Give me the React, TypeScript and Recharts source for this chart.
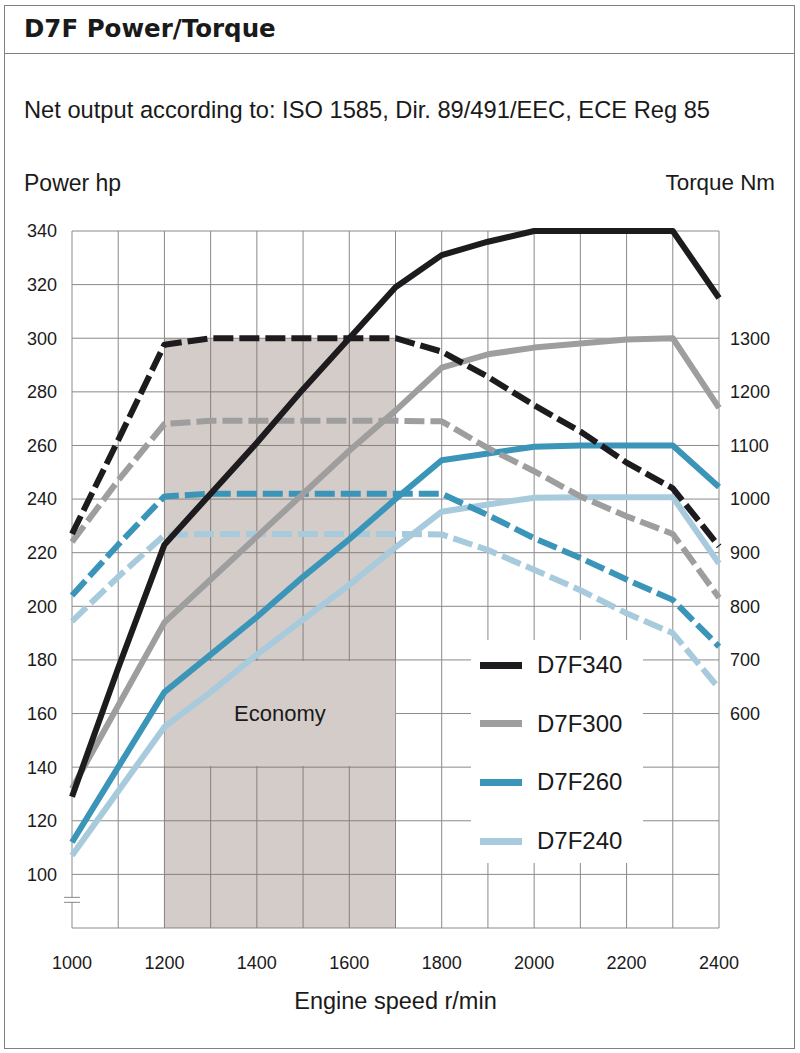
import React from 'react';
import { LineChart, Line, XAxis, YAxis, CartesianGrid, ReferenceArea, ReferenceDot, Legend } from 'recharts';

// engine speed, r/min
const rpm = [1000, 1100, 1200, 1300, 1400, 1500, 1600, 1700, 1800, 1900, 2000, 2100, 2200, 2300, 2400];
const rpmLabels = [1000, 1200, 1400, 1600, 1800, 2000, 2200, 2400];
const hpTicks = [80, 100, 120, 140, 160, 180, 200, 220, 240, 260, 280, 300, 320, 340];
const nmTicks = [600, 700, 800, 900, 1000, 1100, 1200, 1300];

// power, hp
const power340 = [129, 177, 223, 242, 261, 281, 300, 319, 331, 336, 340, 340, 340, 340, 315];
const power300 = [132, 163, 194, 210, 226, 242, 258, 273, 289, 294, 296.5, 298, 299.5, 300, 274];
const power260 = [112, 140, 168, 182, 196, 211, 225, 240, 254.5, 257, 259.5, 260, 260, 260, 244.5];
const power240 = [107, 131, 155, 168, 182, 195, 208, 222, 235.3, 238, 240.5, 240.7, 240.7, 240.7, 216];

// torque, Nm
const torque340 = [935, 1110, 1288, 1300, 1300, 1300, 1300, 1300, 1275, 1228, 1175, 1126, 1068, 1020, 912];
const torque300 = [920, 1035, 1140, 1146, 1146, 1146, 1146, 1146, 1145, 1095, 1052, 1005, 968, 935, 816];
const torque260 = [820, 915, 1005, 1010, 1010, 1010, 1010, 1010, 1010, 970, 927, 890, 850, 812, 725];
const torque240 = [772, 855, 933, 935, 935, 935, 935, 935, 934, 905, 868, 830, 787, 750, 647];

const engines = [
  { name: 'D7F240', color: '#a7cbdd', power: power240, torque: torque240 },
  { name: 'D7F260', color: '#3a95b8', power: power260, torque: torque260 },
  { name: 'D7F300', color: '#9e9e9e', power: power300, torque: torque300 },
  { name: 'D7F340', color: '#1d1b1e', power: power340, torque: torque340 },
];

const data = rpm.map((r, i) => {
  const row: Record<string, number> = { rpm: r };
  engines.forEach(e => {
    row[`p_${e.name}`] = e.power[i];
    row[`t_${e.name}`] = e.torque[i];
  });
  return row;
});

const FONT = '"Liberation Sans", Arial, sans-serif';
const TEXT = '#1a1a1a';
const GRID = '#8a8a8a';

const renderLegend = (props: any) => {
  const items = (props.payload || [])
    .filter((entry: any) => String(entry.dataKey).startsWith('p_'))
    .reverse();
  return (
    <div style={{ position: 'relative', width: 172, height: 223, background: '#fff', fontFamily: FONT }}>
      {items.map((entry: any, i: number) => (
        <div key={entry.value} style={{ position: 'absolute', left: 0, top: 25 + i * 58.7 - 15, height: 30, display: 'flex', alignItems: 'center' }}>
          <div style={{ marginLeft: 9, width: 42, height: 7, background: entry.color }} />
          <span style={{ marginLeft: 15, fontSize: 24, color: TEXT, lineHeight: '30px' }}>{entry.value}</span>
        </div>
      ))}
    </div>
  );
};

const AxisBreak = (props: any) => {
  const { cx, cy } = props;
  return (
    <g>
      <rect x={cx - 2} y={cy - 2} width={4} height={4} fill="#fff" />
      <line x1={cx - 8} x2={cx + 8} y1={cy - 2.5} y2={cy - 2.5} stroke={GRID} strokeWidth={1} />
      <line x1={cx - 8} x2={cx + 8} y1={cy + 2.5} y2={cy + 2.5} stroke={GRID} strokeWidth={1} />
    </g>
  );
};

const tickStyle = { fontSize: 18, fill: TEXT, fontFamily: FONT };

export default function App() {
  return (
    <div style={{ position: 'absolute', left: 0, top: 0, width: 800, height: 1053, background: '#fff', fontFamily: FONT, color: TEXT }}>
      <div style={{ position: 'absolute', left: 4, top: 5, width: 791, height: 1044, border: '1px solid #808080', boxSizing: 'border-box' }} />
      <div style={{ position: 'absolute', left: 4, top: 53, width: 791, borderTop: '1px solid #808080' }} />
      <div style={{ position: 'absolute', left: 24, top: 14, fontSize: 24.5, fontWeight: 'bold', lineHeight: '30px', fontFamily: '"DejaVu Sans", sans-serif' }}>
        D7F Power/Torque
      </div>
      <div style={{ position: 'absolute', left: 24, top: 96, fontSize: 23.7, lineHeight: '28px' }}>
        Net output according to: ISO 1585, Dir. 89/491/EEC, ECE Reg 85
      </div>
      <div style={{ position: 'absolute', left: 24, top: 169, fontSize: 23, lineHeight: '28px' }}>Power hp</div>
      <div style={{ position: 'absolute', right: 25, top: 169, fontSize: 22.4, lineHeight: '28px' }}>Torque Nm</div>

      <div style={{ position: 'absolute', left: 0, top: 0 }}>
        <LineChart width={800} height={1053} data={data} margin={{ top: 231, right: 0, bottom: 0, left: 0 }} style={{ fontFamily: FONT }}>
          <CartesianGrid stroke={GRID} strokeWidth={1} yAxisId="hp" />
          <XAxis
            dataKey="rpm"
            type="number"
            domain={[1000, 2400]}
            ticks={rpm}
            interval={0}
            height={125}
            axisLine={false}
            tickLine={false}
            tickSize={0}
            tickMargin={28}
            tickFormatter={(v: number) => (rpmLabels.includes(v) ? String(v) : '')}
            tick={tickStyle}
            label={{ value: 'Engine speed r/min', position: 'insideTop', offset: 64, fontSize: 23.5, fill: TEXT, fontFamily: FONT }}
          />
          <YAxis
            yAxisId="hp"
            domain={[80, 340]}
            ticks={hpTicks}
            interval={0}
            width={72}
            axisLine={false}
            tickLine={false}
            tickSize={0}
            tickMargin={15}
            tickFormatter={(v: number) => (v < 100 ? '' : String(v))}
            tick={tickStyle}
          />
          <YAxis
            yAxisId="nm"
            orientation="right"
            domain={[200, 1500]}
            ticks={nmTicks}
            interval={0}
            width={81}
            axisLine={false}
            tickLine={false}
            tickSize={0}
            tickMargin={11}
            tick={tickStyle}
          />
          <ReferenceArea yAxisId="hp" x1={1200} x2={1700} y1={80} y2={300} fill="#856e64" fillOpacity={0.35} stroke="none" />
          <ReferenceArea
            yAxisId="hp"
            x1={1200.5}
            x2={1699.5}
            y1={140.4}
            y2={179.6}
            fill="#d4ccc9"
            fillOpacity={1}
            stroke="none"
            label={{ value: 'Economy', position: 'center', fontSize: 22, fill: TEXT, fontFamily: FONT }}
          />
          <ReferenceDot yAxisId="hp" x={1000} y={90.5} shape={AxisBreak} />
          {engines.map(e => [
            <Line
              key={`t_${e.name}`}
              yAxisId="nm"
              type="linear"
              dataKey={`t_${e.name}`}
              stroke={e.color}
              strokeWidth={6}
              strokeDasharray="20 6"
              strokeLinejoin="round"
              dot={false}
              legendType="none"
              isAnimationActive={false}
            />,
            <Line
              key={`p_${e.name}`}
              yAxisId="hp"
              type="linear"
              dataKey={`p_${e.name}`}
              name={e.name}
              stroke={e.color}
              strokeWidth={6}
              strokeLinejoin="round"
              dot={false}
              isAnimationActive={false}
            />,
          ])}
          <Legend
            layout="vertical"
            align="center"
            verticalAlign="middle"
            content={renderLegend}
            wrapperStyle={{ left: 471, top: 640, width: 172, height: 223 }}
          />
        </LineChart>
      </div>
    </div>
  );
}
